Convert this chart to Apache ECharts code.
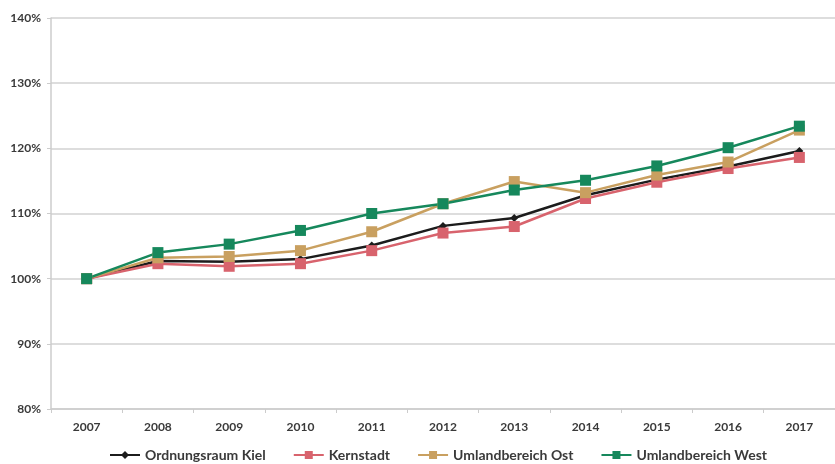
<!DOCTYPE html>
<html>
<head>
<meta charset="utf-8">
<script src="https://cdn.jsdelivr.net/npm/echarts@6/dist/echarts.min.js"></script>
<style>
html,body{margin:0;padding:0;background:#fff;}
#chart{width:835px;height:464px;}
</style>
</head>
<body>
<div id="chart"></div>
<script>
// Index values (2007 = 100 %)
const years = ['2007','2008','2009','2010','2011','2012','2013','2014','2015','2016','2017'];
const ordnungsraumKiel = [100, 102.7, 102.6, 103.0, 105.1, 108.1, 109.3, 112.8, 115.2, 117.2, 119.6];
const kernstadt        = [100, 102.3, 101.9, 102.3, 104.3, 107.0, 108.0, 112.3, 114.8, 116.9, 118.6];
const umlandOst        = [100, 103.2, 103.4, 104.3, 107.2, 111.5, 114.9, 113.2, 115.9, 117.9, 122.8];
const umlandWest       = [100, 104.0, 105.3, 107.4, 110.0, 111.5, 113.6, 115.1, 117.3, 120.1, 123.4];
const yTicks = [80, 90, 100, 110, 120, 130, 140];

const chart = echarts.init(document.getElementById('chart'));
const font = 'Lato, "Open Sans", sans-serif';

function line(name, data, color, symbol, size) {
  return {
    name, type: 'line', data,
    symbol, symbolSize: size,
    lineStyle: { color, width: 2.5 },
    itemStyle: { color },
    emphasis: { disabled: true },
    animation: false
  };
}

chart.setOption({
  animation: false,
  grid: { left: 51, right: -6, top: 18, bottom: 55 },
  xAxis: {
    type: 'category',
    data: years,
    boundaryGap: true,
    axisLine: { lineStyle: { color: '#cccccc', width: 1.5 } },
    axisTick: { show: true, length: 4, lineStyle: { color: '#cccccc' } },
    axisLabel: { color: '#3a3a3a', fontFamily: font, fontWeight: 'bold', fontSize: 12, margin: 12 }
  },
  yAxis: {
    type: 'value',
    min: yTicks[0], max: yTicks[yTicks.length - 1], interval: 10,
    axisLine: { show: true, lineStyle: { color: '#cccccc', width: 1.5 } },
    axisTick: { show: true, length: 4, lineStyle: { color: '#cccccc' } },
    splitLine: { lineStyle: { color: '#d2d2d2', width: 1.5 } },
    axisLabel: { color: '#3a3a3a', fontFamily: font, fontWeight: 'bold', fontSize: 12, margin: 10,
      formatter: v => v + '%' }
  },
  legend: {
    top: 443,
    left: 104,
    itemWidth: 30, itemHeight: 10, itemGap: 27,
    textStyle: { color: '#3a3a3a', fontFamily: font, fontWeight: 'bold', fontSize: 14 },
    data: ['Ordnungsraum Kiel', 'Kernstadt', 'Umlandbereich Ost', 'Umlandbereich West']
  },
  series: [
    line('Ordnungsraum Kiel', ordnungsraumKiel, '#1c1c1c', 'diamond', 8),
    line('Kernstadt', kernstadt, '#d8636d', 'rect', 11),
    line('Umlandbereich Ost', umlandOst, '#c9a060', 'rect', 11),
    line('Umlandbereich West', umlandWest, '#16885c', 'rect', 11)
  ]
});
</script>
</body>
</html>
